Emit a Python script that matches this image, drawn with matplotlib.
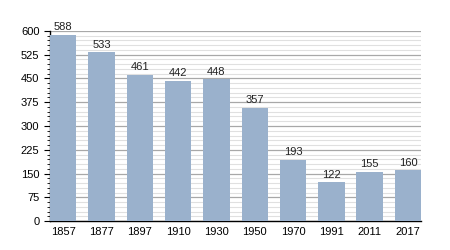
import matplotlib
matplotlib.use("Agg")
import matplotlib.pyplot as plt
from matplotlib.ticker import MultipleLocator

years = ["1857", "1877", "1897", "1910", "1930", "1950", "1970", "1991", "2011", "2017"]
population = [588, 533, 461, 442, 448, 357, 193, 122, 155, 160]

plt.rcParams["font.family"] = ["Liberation Sans", "DejaVu Sans"]

fig = plt.figure(figsize=(4.5, 2.5), dpi=100)
ax = fig.add_axes([0.111, 0.116, 0.825, 0.76])

x = range(len(years))
ax.bar(x, population, width=0.69, color="#9ab1cc", zorder=3)
for xi, v in zip(x, population):
    ax.text(xi, v + 8, str(v), ha="center", va="bottom", fontsize=8, color="#222222")

ax.set_xlim(-0.345, len(years) - 1 + 0.345)
ax.set_ylim(0, 600)
ax.set_xticks(list(x))
ax.set_xticklabels(years)
ax.yaxis.set_major_locator(MultipleLocator(75))
ax.yaxis.set_minor_locator(MultipleLocator(15))
ax.grid(axis="y", which="major", color="#a8a8a8", linewidth=0.9, zorder=1)
ax.grid(axis="y", which="minor", color="#e0e0e0", linewidth=0.8, zorder=1)

for s in ("top", "right"):
    ax.spines[s].set_visible(False)
ax.spines["left"].set_linewidth(1.0)
ax.spines["bottom"].set_linewidth(1.0)
ax.tick_params(axis="x", length=0, labelsize=8, pad=4)
ax.tick_params(axis="y", which="major", length=4, width=0.8, labelsize=8, direction="out")
ax.tick_params(axis="y", which="minor", length=2, width=0.6, direction="out")

fig.savefig("out.png", dpi=100)
